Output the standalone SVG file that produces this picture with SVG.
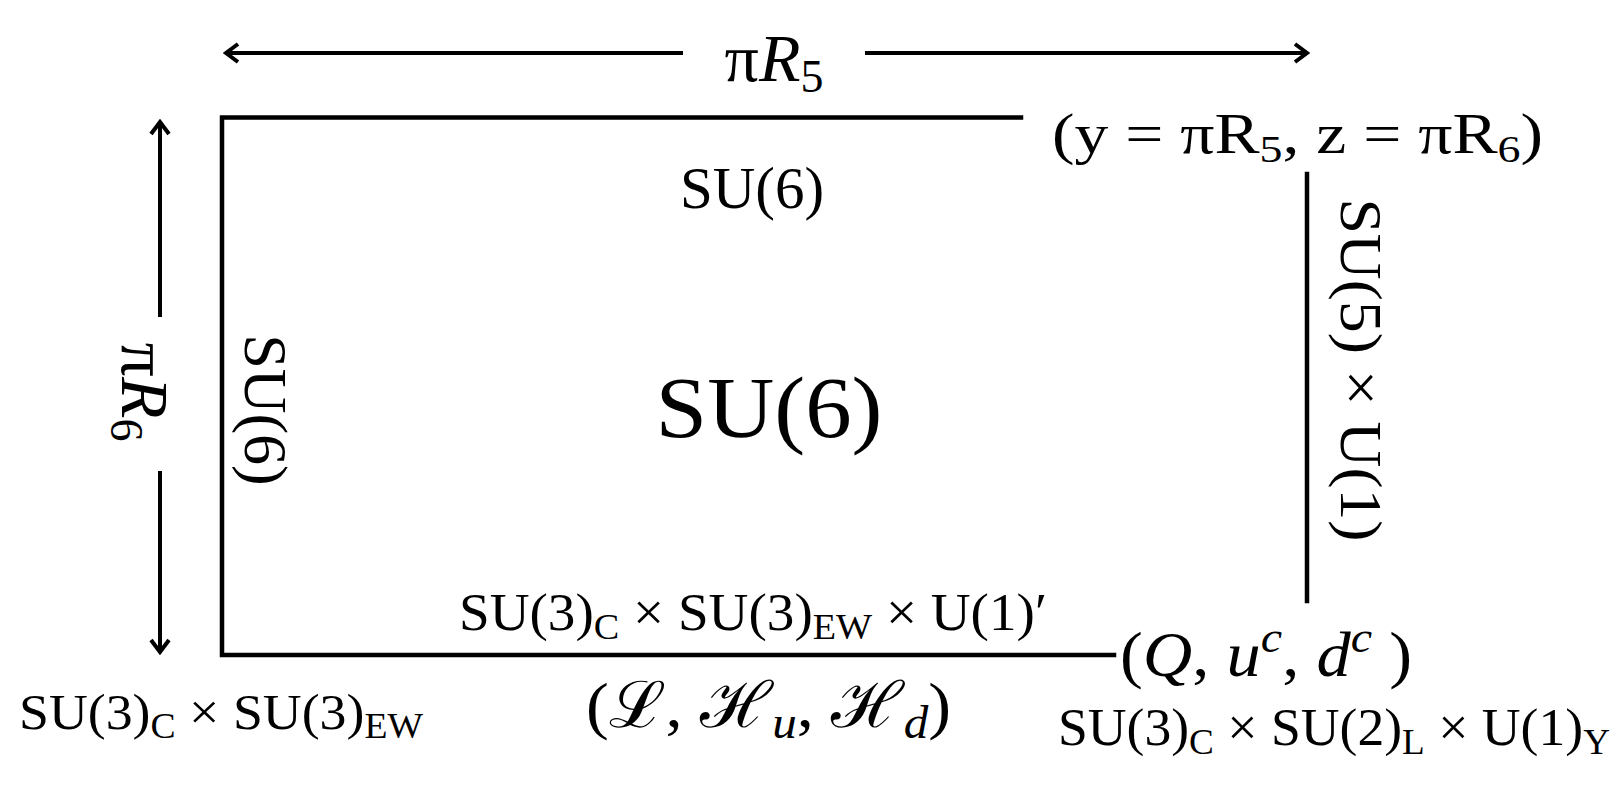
<svg xmlns="http://www.w3.org/2000/svg" width="1618" height="786" viewBox="0 0 1618 786">
<style>
.t{font-family:"Liberation Serif","DejaVu Serif",serif;fill:#000}
.i{font-style:italic}
.ln{stroke:#000;stroke-width:4.5;fill:none;stroke-linecap:square}
.ar{stroke:#000;stroke-width:4;fill:none}
</style>
<defs>
<marker id="ah" viewBox="0 0 22 22" refX="19" refY="11" markerWidth="22" markerHeight="22" markerUnits="userSpaceOnUse" orient="auto-start-reverse">
<path d="M7,2 L19,11 L7,20" fill="none" stroke="#000" stroke-width="4" stroke-linejoin="miter"/>
</marker>
</defs>
<rect width="1618" height="786" fill="#fff"/>
<g id="connectors">
<line class="ar" x1="226" y1="53" x2="683" y2="53" marker-start="url(#ah)"/>
<line class="ar" x1="865" y1="53" x2="1307" y2="53" marker-end="url(#ah)"/>
<line class="ar" x1="160" y1="122" x2="160" y2="317" marker-start="url(#ah)"/>
<line class="ar" x1="160" y1="471" x2="160" y2="652" marker-end="url(#ah)"/>
<polyline class="ln" points="1021,117.5 222,117.5 222,655 1114,655"/>
<line class="ln" x1="1307" y1="174" x2="1307" y2="601"/>
</g>
<g id="label-piR5"><text class="t" x="774" y="81" font-size="68" text-anchor="middle">π<tspan class="i">R</tspan><tspan font-size="46" dy="11">5</tspan></text></g>
<g id="label-piR6"><text class="t" transform="translate(122,392) rotate(90)" font-size="68" text-anchor="middle">π<tspan class="i">R</tspan><tspan font-size="46" dy="11">6</tspan></text></g>
<g id="corner-top-right"><text class="t" x="1052" y="153" font-size="56" textLength="491" lengthAdjust="spacingAndGlyphs">(y = πR<tspan font-size="38" dy="9">5</tspan><tspan dy="-9">, z = πR</tspan><tspan font-size="38" dy="9">6</tspan><tspan dy="-9">)</tspan></text></g>
<g id="top-edge"><text class="t" x="752" y="208" font-size="59" text-anchor="middle">SU(6)</text></g>
<g id="bulk"><text class="t" x="769" y="437" font-size="86" text-anchor="middle" textLength="227" lengthAdjust="spacingAndGlyphs">SU(6)</text></g>
<g id="left-edge"><text class="t" transform="translate(245,410) rotate(90)" font-size="62" text-anchor="middle">SU(6)</text></g>
<g id="right-edge"><text class="t" transform="translate(1341,370) rotate(90)" font-size="59" text-anchor="middle" textLength="343" lengthAdjust="spacingAndGlyphs">SU(5) × U(1)</text></g>
<g id="bottom-edge"><text class="t" x="459" y="630" font-size="52" textLength="588" lengthAdjust="spacingAndGlyphs">SU(3)<tspan font-size="36" dy="9">C</tspan><tspan dy="-9"> × SU(3)</tspan><tspan font-size="36" dy="9">EW</tspan><tspan dy="-9"> × U(1)′</tspan></text></g>
<g id="bottom-fields"><text class="t" x="586" y="727" font-size="64" textLength="365" lengthAdjust="spacingAndGlyphs">(ℒ, ℋ<tspan class="i" font-size="46" dy="11">u</tspan><tspan dy="-11">, ℋ</tspan><tspan class="i" font-size="46" dy="11">d</tspan><tspan dy="-11">)</tspan></text></g>
<g id="corner-bottom-left"><text class="t" x="19" y="729" font-size="50" textLength="404" lengthAdjust="spacingAndGlyphs">SU(3)<tspan font-size="35" dy="9">C</tspan><tspan dy="-9"> × SU(3)</tspan><tspan font-size="35" dy="9">EW</tspan></text></g>
<g id="corner-bottom-right">
<text class="t" x="1120" y="676" font-size="64" textLength="292" lengthAdjust="spacingAndGlyphs">(<tspan class="i">Q</tspan>, <tspan class="i">u</tspan><tspan class="i" font-size="45" dy="-24">c</tspan><tspan dy="24">, </tspan><tspan class="i">d</tspan><tspan class="i" font-size="45" dy="-24">c</tspan><tspan dy="24"> )</tspan></text>
<text class="t" x="1058" y="745" font-size="52" textLength="552" lengthAdjust="spacingAndGlyphs">SU(3)<tspan font-size="36" dy="9">C</tspan><tspan dy="-9"> × SU(2)</tspan><tspan font-size="36" dy="9">L</tspan><tspan dy="-9"> × U(1)</tspan><tspan font-size="36" dy="9">Y</tspan></text>
</g>
</svg>
